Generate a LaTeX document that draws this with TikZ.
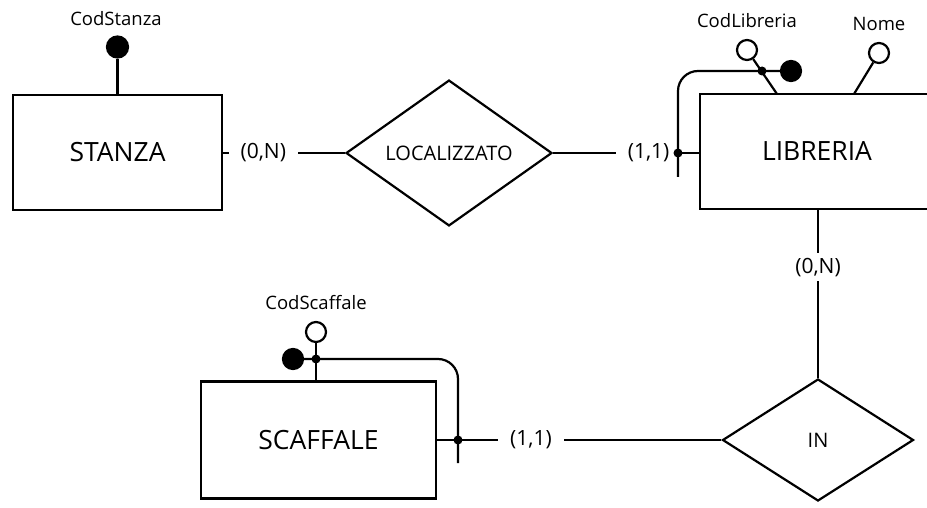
\documentclass[tikz,border=0pt]{standalone}
\usepackage{fontspec}
\setmainfont{Open Sans}
\usetikzlibrary{shapes.geometric}

\tikzset{
  entity/.style={draw,line width=2.2pt,minimum width=209pt,minimum height=115pt,
    font=\fontsize{26.5}{31}\selectfont},
  relation/.style={draw,diamond,line width=2.2pt,inner sep=1pt,
    font=\fontsize{20}{24}\selectfont},
  card/.style={fill=white,inner xsep=12pt,inner ysep=5pt,font=\fontsize{21}{25}\selectfont},
  attr/.style={circle,draw,line width=2.2pt,minimum size=20pt,inner sep=0pt,fill=white},
  keyattr/.style={attr,fill=black},
  attrname/.style={inner sep=0pt,font=\fontsize{18.5}{22}\selectfont},
  jdot/.style={circle,fill=black,minimum size=9pt,inner sep=0pt},
}

\begin{document}
\begin{tikzpicture}[x=1pt,y=-1pt,line width=2.2pt]
\useasboundingbox (0,0) rectangle (927,508);
% entities and relationships
\node[entity] (stanza) at (117.5,152.5) {STANZA};
\node[entity,minimum width=234pt] (libreria) at (817,151.5) {LIBRERIA};
\node[entity,minimum width=235pt,minimum height=117pt] (scaffale) at (318.5,440) {SCAFFALE};
\node[relation,minimum width=206pt,minimum height=112pt] (localizzato) at (449,153) {LOCALIZZATO};
\node[relation,minimum width=191pt,minimum height=122pt] (in) at (818,440) {IN};
% connectors with cardinalities
\draw (stanza.east |- localizzato.west) -- node[card,pos=0.33] (cstanza) {(0,N)} (localizzato.west);
\draw (localizzato.east) -- node[card,pos=0.655] (clibloc) {(1,1)} (libreria.west |- localizzato.east);
\draw (libreria.south -| in.north) -- node[card,pos=0.34,inner xsep=2pt] (clibin) {(0,N)} (in.north);
\draw (scaffale.east) -- node[card,pos=0.33] (cscaffale) {(1,1)} (in.west);
% attributes
\node[keyattr,minimum size=21pt] (codstanza) at (117.5,47) {};
\node[attrname] (tcodstanza) at (116,19) {CodStanza};
\draw (codstanza) -- (codstanza |- stanza.north);
\node[attr] (codlibreria) at (747,50) {};
\node[attrname] (tcodlibreria) at (747,21) {CodLibreria};
\coordinate (codlibfoot) at (777,94);
\draw (codlibreria) -- (codlibfoot);
\node[attr] (nome) at (879,53) {};
\node[attrname] (tnome) at (879,24) {Nome};
\coordinate (nomefoot) at (854,94);
\draw (nome) -- (nomefoot);
\node[attr] (codscaffale) at (316,332) {};
\node[attrname] (tcodscaffale) at (316,303) {CodScaffale};
\draw (codscaffale) -- (codscaffale |- scaffale.north);
% external identifiers
\node[keyattr] (libkey) at (791,71) {};
\coordinate (libbend) at (678,71);
\coordinate (libend) at (678,177);
\draw[rounded corners=20pt] (libkey) -- (libbend) -- (libend);
\node[jdot] (libdota) at (762,71) {};
\node[jdot] (libdotb) at (678,153) {};
\node[keyattr] (scafkey) at (293,359) {};
\coordinate (scafbend) at (458,359);
\coordinate (scafend) at (458,463);
\draw[rounded corners=20pt] (scafkey) -- (scafbend) -- (scafend);
\node[jdot] (scafdota) at (316,359) {};
\node[jdot] (scafdotb) at (458,440) {};
\end{tikzpicture}
\end{document}
